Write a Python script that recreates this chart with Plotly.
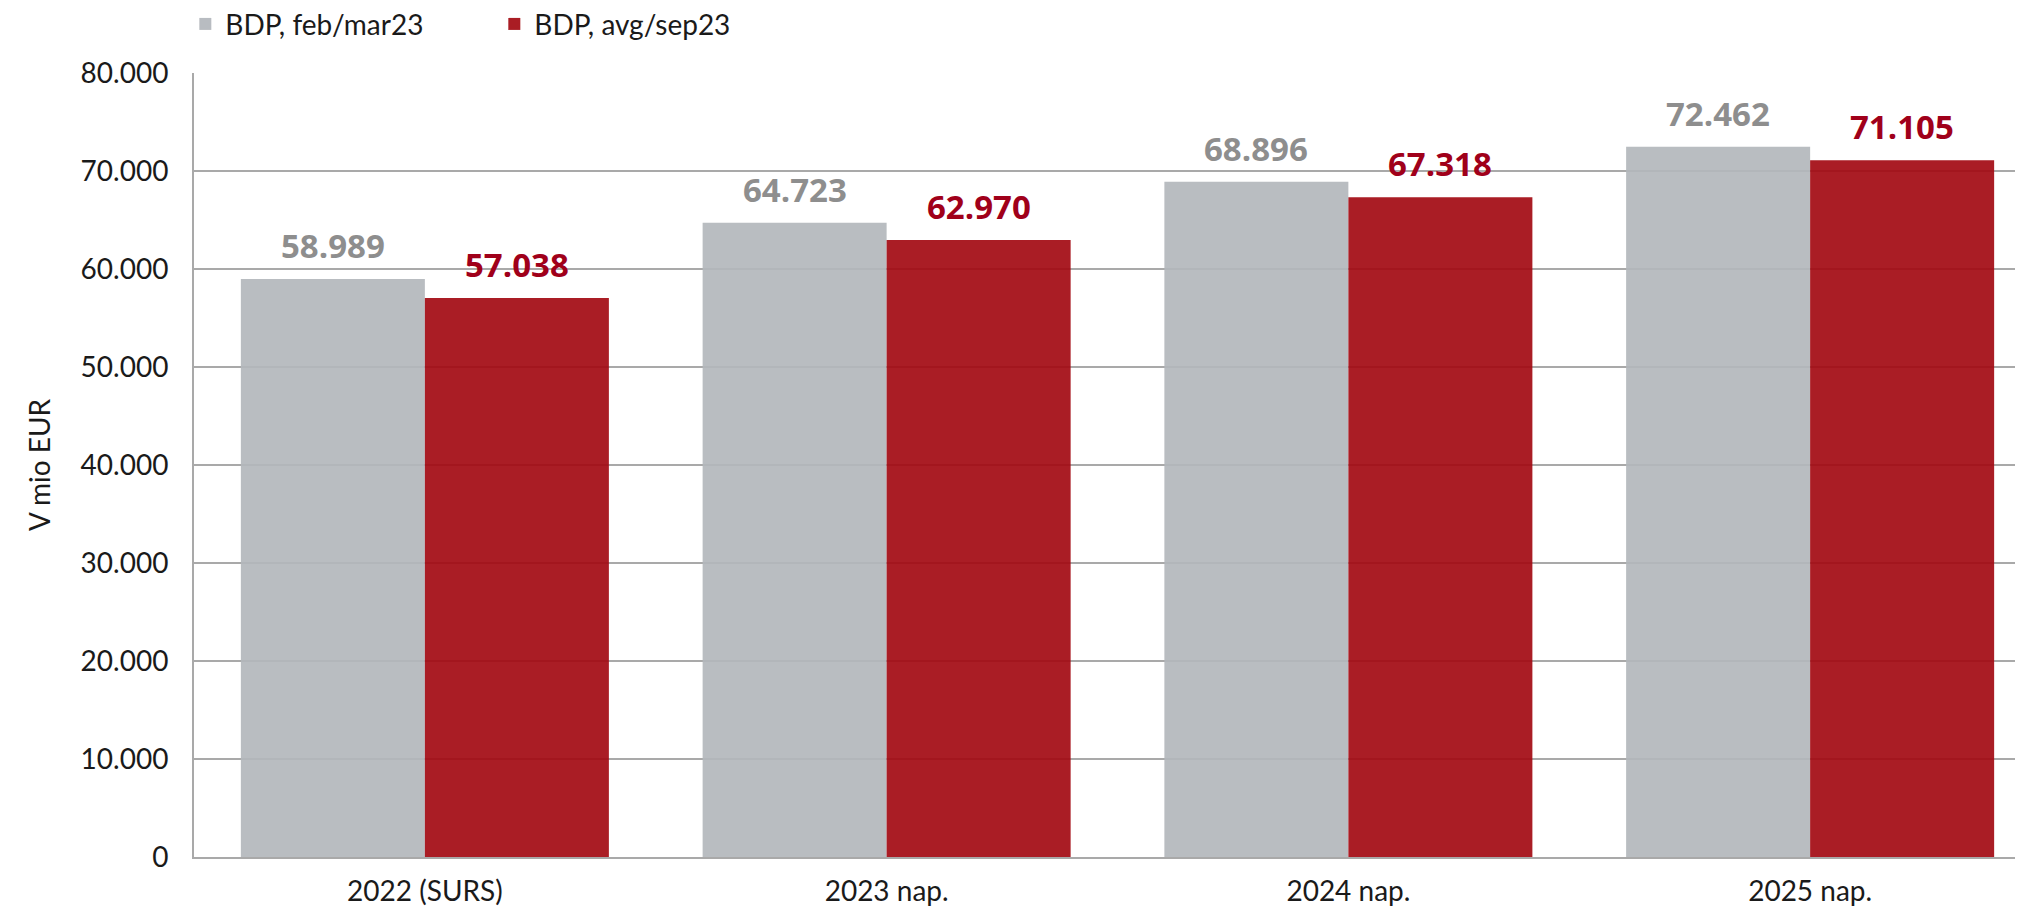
import plotly.graph_objects as go

categories = ["2022 (SURS)", "2023 nap.", "2024 nap.", "2025 nap."]
series_names = ["BDP, feb/mar23", "BDP, avg/sep23"]
feb_mar23 = [58989, 64723, 68896, 72462]
avg_sep23 = [57038, 62970, 67318, 71105]
y_ticks = [0, 10000, 20000, 30000, 40000, 50000, 60000, 70000, 80000]

bar_colors = ["#b3b7bc", "#a30a12"]
label_colors = ["#8e8e8e", "#a0001a"]
bargap = 0.203
opac = 0.92

fig = go.Figure()
for name, vals, col in zip(series_names, [feb_mar23, avg_sep23], bar_colors):
    fig.add_trace(go.Bar(
        x=categories, y=vals, name=name,
        marker=dict(color=col, line=dict(width=0)),
        opacity=opac,
    ))

# data labels above bars
w = (1 - bargap) / 2
for k, (vals, col) in enumerate(zip([feb_mar23, avg_sep23], label_colors)):
    off = -w / 2 if k == 0 else w / 2
    for i, v in enumerate(vals):
        fig.add_annotation(
            x=i + off, y=v, xref="x", yref="y",
            text=f"{v:,}".replace(",", "."),
            showarrow=False, yanchor="bottom", yshift=9,
            font=dict(family="Open Sans", size=33, color=col, weight="bold"),
        )

fig.update_layout(
    width=2015, height=901,
    margin=dict(l=186, r=0, t=65, b=52),
    paper_bgcolor="white", plot_bgcolor="white",
    barmode="group", bargap=bargap, bargroupgap=0,
    separators=",.",
    font=dict(family="Lato", size=28, color="#1a1a1a"),
    showlegend=True,
    legend=dict(orientation="h", xref="container", yref="container",
                x=0.088, xanchor="left", y=0.982, yanchor="middle",
                font=dict(size=28, family="Lato"),
                entrywidth=264, entrywidthmode="pixels",
                itemwidth=30, traceorder="normal",
                bgcolor="rgba(0,0,0,0)"),
)

fig.update_xaxes(
    range=[-0.5, 3.461],
    showline=True, linecolor="#a9a9a9", linewidth=2,
    ticks="", tickfont=dict(size=28), showgrid=False,
    ticklabelstandoff=8,
)
fig.update_yaxes(
    range=[0, 80000], tickvals=y_ticks, tickformat=",d",
    showgrid=True, gridcolor="#a9a9a9", gridwidth=2,
    showline=True, linecolor="#a9a9a9", linewidth=2,
    zeroline=False, ticks="", ticklen=0,
    tickfont=dict(size=28), ticklabelstandoff=18,
    title=dict(text="V mio EUR", font=dict(size=28), standoff=22),
)

fig.write_html("out.html")
